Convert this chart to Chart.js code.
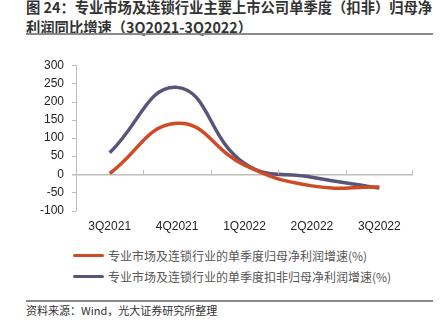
<!DOCTYPE html>
<html>
<head>
<meta charset="utf-8">
<script src="https://cdn.jsdelivr.net/npm/chart.js@4/dist/chart.umd.min.js"></script>
<style>
  body { margin: 0; width: 440px; height: 334px; background: #fff; position: relative; overflow: hidden;
         font-family: "Noto Sans CJK SC", sans-serif; }
  #title { position: absolute; left: 26px; top: -3px; font-size: 14.3px; font-weight: bold; color: #333;
           line-height: 20px; white-space: nowrap; }
  .rule { position: absolute; left: 26px; width: 407px; height: 2px; background: #8a8a8a; }
  #wrap { position: absolute; left: 0; top: 50px; width: 440px; height: 193px; }
  #legend { position: absolute; left: 73px; top: 245px; font-size: 12px; color: #555; }
  .item { height: 21px; display: flex; align-items: center; white-space: nowrap; }
  .swatch { width: 31px; height: 3px; border-radius: 2px; margin-right: 4px; }
  #source { position: absolute; left: 26px; top: 302px; font-size: 11px; color: #333; }
</style>
</head>
<body>
<div id="title">图 24：专业市场及连锁行业主要上市公司单季度（扣非）归母净<br>利润同比增速（3Q2021-3Q2022）</div>
<div class="rule" style="top:33px"></div>
<div id="wrap"><canvas id="chart"></canvas></div>
<div id="legend"></div>
<div class="rule" style="top:300px"></div>
<div id="source">资料来源：Wind，光大证券研究所整理</div>
<script>
const quarters = ['3Q2021', '4Q2021', '1Q2022', '2Q2022', '3Q2022']
const profitGrowth = [2, 140, 25, -32, -35]
const deductedGrowth = [59, 239, 30, -8, -38]
const seriesNames = [
  '专业市场及连锁行业的单季度归母净利润增速(%)',
  '专业市场及连锁行业的单季度扣非归母净利润增速(%)'
]
const seriesColors = ['#cf4a25', '#585579']

const axisGrey = '#bdbdbd'
const tickFont = { family: '"Liberation Sans", Arial, sans-serif', size: 12 }

new Chart(document.querySelector('#chart'), {
  type: 'line',
  data: {
    labels: quarters,
    datasets: [profitGrowth, deductedGrowth].map((values, i) => ({
      label: seriesNames[i],
      data: values,
      borderColor: seriesColors[i],
      backgroundColor: seriesColors[i],
      borderWidth: 3.5,
      pointRadius: 0,
      tension: 0.45,
      cubicInterpolationMode: 'default'
    }))
  },
  options: {
    responsive: true,
    maintainAspectRatio: false,
    animation: false,
    layout: { padding: { top: 11, right: 27, left: 0, bottom: 0 } },
    plugins: { legend: { display: false }, tooltip: { enabled: false } },
    scales: {
      x: {
        offset: true,
        border: { display: false },
        grid: { display: false, drawTicks: false },
        ticks: { color: '#222', font: tickFont, padding: 9, maxRotation: 0 }
      },
      y: {
        min: -100,
        max: 300,
        afterFit: scale => { scale.width = 76 },
        border: { display: true, color: axisGrey, width: 1 },
        grid: {
          drawOnChartArea: true,
          drawTicks: true,
          tickLength: 4,
          color: ctx => ctx.tick && ctx.tick.value === 0 ? axisGrey : 'rgba(0,0,0,0)',
          lineWidth: 1.5
        },
        ticks: { stepSize: 50, color: '#222', font: tickFont, padding: 8 }
      }
    }
  },
  plugins: [{
    id: 'tickMarks',
    afterDraw(chart) {
      const { ctx, scales: { x, y } } = chart
      const zero = y.getPixelForValue(0)
      ctx.save()
      ctx.strokeStyle = axisGrey
      ctx.lineWidth = 1
      // small y-axis ticks and category boundary ticks on the zero line
      y.ticks.forEach(t => {
        const py = Math.round(y.getPixelForValue(t.value)) + 0.5
        ctx.beginPath(); ctx.moveTo(x.left - 4, py); ctx.lineTo(x.left, py); ctx.stroke()
      })
      for (let i = 1; i <= quarters.length; i++) {
        const px = Math.round((x.getPixelForValue(i - 1) + x.getPixelForValue(i)) / 2) + 0.5
        const bx = i === quarters.length ? x.right - 0.5 : px
        ctx.beginPath(); ctx.moveTo(bx, zero - 4); ctx.lineTo(bx, zero); ctx.stroke()
      }
      ctx.restore()
    }
  }]
})

const legend = document.querySelector('#legend')
seriesNames.forEach((name, i) => {
  legend.insertAdjacentHTML('beforeend',
    `<div class="item"><span class="swatch" style="background:${seriesColors[i]}"></span>${name}</div>`)
})
</script>
</body>
</html>
